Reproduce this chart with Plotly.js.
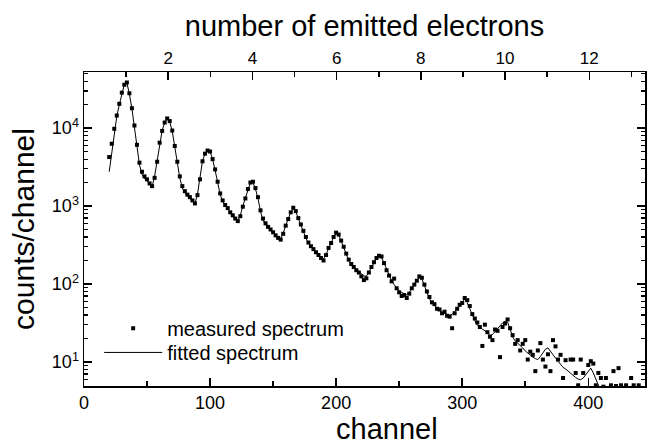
<!DOCTYPE html>
<html><head><meta charset="utf-8">
<script src="https://cdn.plot.ly/plotly-3.0.1.min.js"></script>
<style>html,body{margin:0;padding:0;background:#fff;} #chart{width:647px;height:445px;}</style>
</head><body><div id="chart"></div>
<script>
// measured spectrum (channel, counts)
const measuredChannel = [20,22,24,26,28,30,32,34,36,38,40,42,44,46,48,50,52,54,56,58,60,62,64,66,68,70,72,74,76,78,80,82,84,86,88,90,92,94,96,98,100,102,104,106,108,110,112,114,116,118,120,122,124,126,128,130,132,134,136,138,140,142,144,146,148,150,152,154,156,158,160,162,164,166,168,170,172,174,176,178,180,182,184,186,188,190,192,194,196,198,200,202,204,206,208,210,212,214,216,218,220,222,224,226,228,230,232,234,236,238,240,242,244,246,248,250,252,254,256,258,260,262,264,266,268,270,272,274,276,278,280,282,284,286,288,290,292,294,296,298,300,302,304,306,308,310,312,314,316,318,320,322,324,326,328,330,332,334,336,338,340,342,344,346,348,350,352,354,356,358,360,362,364,366,368,370,372,374,376,378,380,382,384,386,388,390,392,394,396,398,400,402,404,406,408,410,412,414,416,418,420,422,424,426,428,430,432,434,436,438,440,442,444];
const measuredCounts = [
4250,6300,9800,14500,20500,28500,36000,38500,28000,18000,
10800,6100,3600,2750,2400,2200,1950,1800,2300,3700,
6500,9200,11800,13300,12300,9300,5900,3700,2400,1800,
1550,1400,1300,1180,1080,1380,2200,3750,4700,5150,
5000,4000,2950,2050,1450,1180,1030,940,830,760,
690,640,740,980,1250,1650,2000,2050,1700,1300,
880,690,600,540,500,460,420,390,370,440,
560,680,830,950,860,700,580,480,400,340,
305,280,255,235,215,200,235,290,335,400,
455,430,360,300,245,205,180,165,150,140,
125,112,118,140,165,190,215,230,225,185,
150,128,108,117,88,78,70,72,66,75,
88,98,110,125,120,98,80,68,58,55,
48,47,42,44,39,38,27,42,48,54,
57,66,62,52,41,36,32,28,16,30,
24,21,19,26,25,11.5,28,31,35,27,
22,17,19,14,17,19,10.7,13.5,12.3,7.6,
14,17.4,10.7,8.7,12.5,7.6,19,15.8,10.7,12.3,
6.2,10.5,4.5,10.7,10.7,7.2,5.0,10.7,7.2,4.4,
9.1,10.2,9.5,5.0,7.2,6.2,4.8,6.2,4.5,5.0,
7.6,4.9,8.3,5.0,4.3,5.0,4.6,6.2,5.0,4.3,
5.0,4.5,4.4];
// fitted spectrum (channel, counts)
const fittedChannel = [20,22,24,26,28,30,32,34,36,38,40,42,44,46,48,50,52,54,56,58,60,62,64,66,68,70,72,74,76,78,80,82,84,86,88,90,92,94,96,98,100,102,104,106,108,110,112,114,116,118,120,122,124,126,128,130,132,134,136,138,140,142,144,146,148,150,152,154,156,158,160,162,164,166,168,170,172,174,176,178,180,182,184,186,188,190,192,194,196,198,200,202,204,206,208,210,212,214,216,218,220,222,224,226,228,230,232,234,236,238,240,242,244,246,248,250,252,254,256,258,260,262,264,266,268,270,272,274,276,278,280,282,284,286,288,290,292,294,296,298,300,302,304,306,308,310,312,314,316,318,320,322,324,326,328,330,332,334,336,338,340,342,344,346,348,350,352,354,356,358,360,362,364,366,368,370,372,374,376,378,380,382,384,386,388,390,392,394,396,398,400,402,404,406,408,410];
const fittedCounts = [
2750,5010,9120,14130,19950,28180,36310,38020,27540,17780,
10470,5890,3390,2570,2240,2090,1905,1778,2400,3800,
6610,9330,11750,13180,12020,9120,5750,3550,2290,1700,
1480,1350,1260,1150,1070,1410,2240,3800,4680,5130,
5010,3980,2880,2000,1410,1150,1000,912,813,741,
676,646,759,1000,1260,1660,2000,2000,1660,1260,
851,661,575,525,490,457,417,389,380,447,
562,676,832,933,851,692,562,468,389,331,
302,275,251,234,219,209,240,288,339,398,
447,427,355,295,240,200,178,162,151,145,
135,126,126,141,162,186,209,224,219,186,
155,132,110,97.7,89.1,81.3,77.6,74.1,72.4,77.6,
89.1,100,112,120,117,95.5,77.6,64.6,57.5,52.5,
49.0,45.7,42.7,41.7,40.7,39.8,40.7,43.7,47.9,52.5,
58.9,63.1,57.5,47.9,39.8,33.9,29.5,27.5,26.3,25.1,
23.4,21.9,22.4,24.5,26.9,29.5,31.6,33.1,32.4,26.3,
20.9,18.6,17.4,16.2,15.1,13.8,12.9,12.3,11.5,11.0,
10.7,11.7,12.9,14.5,15.1,13.5,12.3,11.2,10.2,9.3,
8.5,8.1,7.6,7.1,6.6,6.3,6.0,5.9,6.2,6.8,
7.6,8.3,7.2,6.0,5.0,4.2];

const channelRange = [0, 445];
const channelsPerElectron = 33.4;
const electronTickVals = [2,4,6,8,10,12];
const electronMinorVals = [1,3,5,7,9,11,13];
const yTickVals = [10,100,1000,10000];
const yTickText = ['10<sup>1</sup>','10<sup>2</sup>','10<sup>3</sup>','10<sup>4</sup>'];
const yMinorVals = [];
[1,10,100,1000,10000].forEach(d => { for (let m = 2; m <= 9; m++) yMinorVals.push(m*d); });

const F = 'Liberation Sans, Arial, Helvetica, sans-serif';
const black = '#000';

const traces = [
  {x: measuredChannel, y: measuredCounts, type:'scatter', mode:'markers', name:'measured spectrum',
   legend:'legend', marker:{symbol:'square', size:4, color:black, line:{width:0}}},
  {x: fittedChannel, y: fittedCounts, type:'scatter', mode:'lines', name:'fitted spectrum',
   legend:'legend2', line:{color:black, width:1}},
  {x: [0, channelRange[1]/channelsPerElectron], y: [null, null], xaxis:'x2', yaxis:'y', type:'scatter',
   mode:'markers', showlegend:false, hoverinfo:'skip', marker:{opacity:0}}
];

const legendBase = {xanchor:'left', yanchor:'top', bgcolor:'rgba(0,0,0,0)', borderwidth:0,
  font:{size:20, family:F, color:black}, itemwidth:58};

const layout = {
  width:647, height:445,
  margin:{l:84, r:2, t:72, b:59},
  paper_bgcolor:'#fff', plot_bgcolor:'#fff',
  font:{family:F, color:black, size:18},
  showlegend:true,
  legend:Object.assign({x:0.027, y:0.246}, legendBase),
  legend2:Object.assign({x:0.027, y:0.169}, legendBase),
  xaxis:{range:channelRange, tick0:0, dtick:100, ticks:'inside', ticklen:8, tickwidth:1.5, tickcolor:black,
         showline:true, linewidth:1.5, linecolor:black, mirror:false, showgrid:false, zeroline:false,
         tickfont:{size:18, family:F},
         minor:{dtick:50, tick0:0, ticks:'inside', ticklen:5, tickwidth:1.5, tickcolor:black, showgrid:false}},
  xaxis2:{overlaying:'x', side:'top', anchor:'y', range:[0, channelRange[1]/channelsPerElectron],
          tickmode:'array', tickvals:electronTickVals, ticks:'inside', ticklen:8, tickwidth:1.5, tickcolor:black,
          showline:true, linewidth:1.5, linecolor:black, showgrid:false, zeroline:false,
          tickfont:{size:17, family:F},
          minor:{tickmode:'array', tickvals:electronMinorVals, ticks:'inside', ticklen:5, tickwidth:1.5, tickcolor:black, showgrid:false},
          title:{text:'number of emitted electrons', font:{size:29, family:F}, standoff:3}},
  yaxis:{type:'log', range:[0.69, 4.72], tickmode:'array', tickvals:yTickVals, ticktext:yTickText,
         ticks:'inside', ticklen:8, tickwidth:1.5, tickcolor:black,
         showline:true, linewidth:1.5, linecolor:black, mirror:'ticks', showgrid:false, zeroline:false,
         tickfont:{size:18, family:F},
         minor:{tickmode:'array', tickvals:yMinorVals, ticks:'inside', ticklen:4, tickwidth:1.2, tickcolor:black, showgrid:false},
         title:{text:'counts/channel', font:{size:30, family:F}, standoff:8}},
  annotations:[
    {text:'channel', xref:'paper', yref:'paper', x:0.54, y:-0.137, xanchor:'center', yanchor:'middle',
     showarrow:false, font:{size:29, family:F, color:black}}
  ]
};

Plotly.newPlot('chart', traces, layout, {staticPlot:true, displayModeBar:false});
</script></body></html>
